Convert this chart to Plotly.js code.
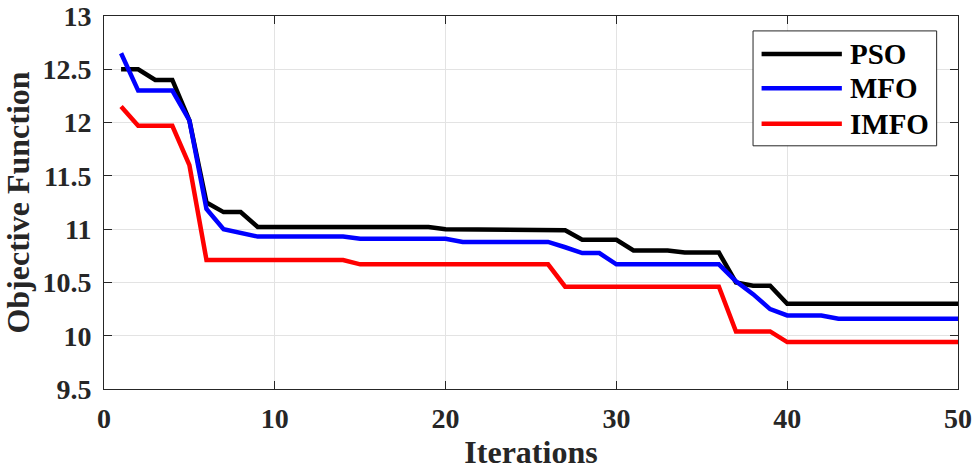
<!DOCTYPE html>
<html>
<head>
<meta charset="utf-8">
<script src="https://cdn.plot.ly/plotly-3.0.1.min.js"></script>
<style>html,body{margin:0;padding:0;background:#fff;}#chart{width:975px;height:470px;}</style>
</head>
<body>
<div id="chart"></div>
<script>
const iterations = Array.from({length: 50}, (_, i) => i + 1);
const psoValues = [12.50, 12.50, 12.40, 12.40, 12.02, 11.25, 11.16, 11.16, 11.02, 11.02,
                   11.02, 11.02, 11.02, 11.02, 11.02, 11.02, 11.02, 11.02, 11.02, 11.00,
                   11.00, 11.00, 11.00, 11.00, 11.00, 11.00, 10.99, 10.90, 10.90, 10.90,
                   10.80, 10.80, 10.80, 10.78, 10.78, 10.78, 10.50, 10.47, 10.47, 10.30,
                   10.30, 10.30, 10.30, 10.30, 10.30, 10.30, 10.30, 10.30, 10.30, 10.30];
const mfoValues = [12.65, 12.30, 12.30, 12.30, 12.02, 11.19, 11.00, 10.97, 10.93, 10.93,
                   10.93, 10.93, 10.93, 10.93, 10.91, 10.91, 10.91, 10.91, 10.91, 10.91,
                   10.88, 10.88, 10.88, 10.88, 10.88, 10.88, 10.83, 10.775, 10.775, 10.67,
                   10.67, 10.67, 10.67, 10.67, 10.67, 10.67, 10.51, 10.39, 10.25, 10.19,
                   10.19, 10.19, 10.16, 10.16, 10.16, 10.16, 10.16, 10.16, 10.16, 10.16];
const imfoValues = [12.15, 11.97, 11.97, 11.97, 11.60, 10.71, 10.71, 10.71, 10.71, 10.71,
                    10.71, 10.71, 10.71, 10.71, 10.67, 10.67, 10.67, 10.67, 10.67, 10.67,
                    10.67, 10.67, 10.67, 10.67, 10.67, 10.67, 10.46, 10.46, 10.46, 10.46,
                    10.46, 10.46, 10.46, 10.46, 10.46, 10.46, 10.04, 10.04, 10.04, 9.94,
                    9.94, 9.94, 9.94, 9.94, 9.94, 9.94, 9.94, 9.94, 9.94, 9.94];
const seriesNames = ["PSO", "MFO", "IMFO"];
const seriesColors = ["#000000", "#0000ff", "#ff0000"];
const xTickVals = [0, 10, 20, 30, 40, 50];
const yTickVals = [9.5, 10, 10.5, 11, 11.5, 12, 12.5, 13];
const yTickText = ["9.5", "10", "10.5", "11", "11.5", "12", "12.5", "13"];

const fontFam = "Liberation Serif, Times New Roman, serif";
const axisColor = "#262626";
const data = [psoValues, mfoValues, imfoValues].map((vals, i) => ({
  x: iterations, y: vals, type: "scatter", mode: "lines", name: seriesNames[i],
  line: {color: seriesColors[i], width: 4.5}, showlegend: false
}));

// custom legend (box, line samples, labels) in paper coordinates
const legBox = {x0: 0.760, x1: 0.975, y0: 0.652, y1: 0.960};
const rowY = [0.898, 0.806, 0.711];
const shapes = [{type: "rect", xref: "paper", yref: "paper", x0: legBox.x0, x1: legBox.x1,
  y0: legBox.y0, y1: legBox.y1, fillcolor: "#fff", line: {color: axisColor, width: 1}, layer: "above"}];
const annotations = [];
seriesNames.forEach((nm, i) => {
  shapes.push({type: "line", xref: "paper", yref: "paper", x0: 0.770, x1: 0.864, y0: rowY[i], y1: rowY[i],
    line: {color: seriesColors[i], width: 4.5}, layer: "above"});
  annotations.push({xref: "paper", yref: "paper", x: 0.8715, y: rowY[i], xanchor: "left", yanchor: "middle",
    text: nm, showarrow: false, font: {family: fontFam, size: 29, color: "#000", weight: "bold"}});
});

const layout = {
  width: 975, height: 470,
  margin: {l: 104, r: 17, t: 16, b: 81},
  paper_bgcolor: "#fff", plot_bgcolor: "#fff",
  font: {family: fontFam, size: 28, color: axisColor, weight: "bold"},
  showlegend: false,
  xaxis: {
    range: [0, 50], tickmode: "array", tickvals: xTickVals, showgrid: true, gridcolor: "#e3e3e3", gridwidth: 1,
    zeroline: false, showline: true, linecolor: axisColor, linewidth: 1, mirror: "ticks",
    ticks: "inside", ticklen: 8, tickcolor: axisColor, ticklabelstandoff: 4, ticklabeloverflow: "allow",
    tickfont: {family: fontFam, size: 28, color: axisColor, weight: "bold"},
    title: {text: "Iterations", font: {family: fontFam, size: 32, color: axisColor, weight: "bold"}, standoff: 12}
  },
  yaxis: {
    range: [9.5, 13], tickmode: "array", tickvals: yTickVals, ticktext: yTickText,
    showgrid: true, gridcolor: "#e3e3e3", gridwidth: 1,
    zeroline: false, showline: true, linecolor: axisColor, linewidth: 1, mirror: "ticks",
    ticks: "inside", ticklen: 8, tickcolor: axisColor, ticklabelstandoff: 6, ticklabeloverflow: "allow",
    tickfont: {family: fontFam, size: 28, color: axisColor, weight: "bold"},
    title: {text: "Objective Function", font: {family: fontFam, size: 32, color: axisColor, weight: "bold"}, standoff: 4}
  },
  shapes: shapes,
  annotations: annotations
};
Plotly.newPlot("chart", data, layout, {displayModeBar: false, staticPlot: true});
</script>
</body>
</html>
